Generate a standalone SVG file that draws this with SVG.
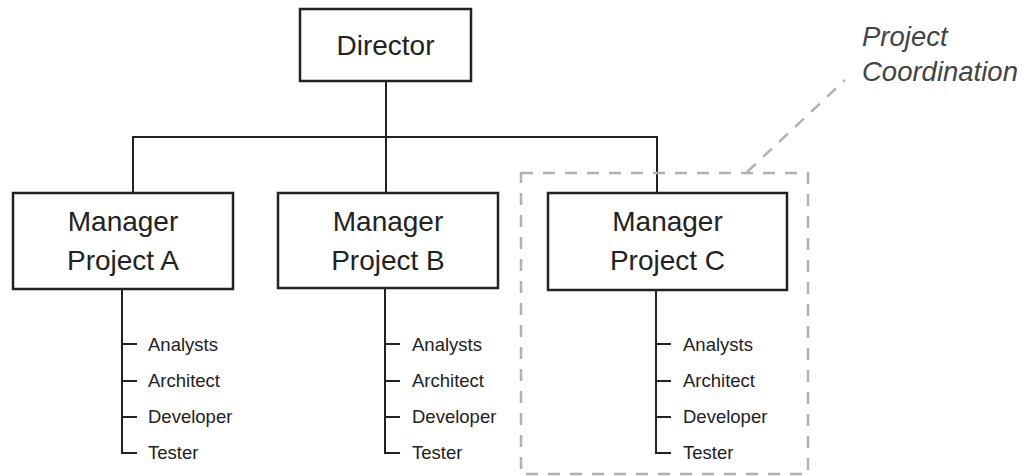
<svg xmlns="http://www.w3.org/2000/svg" width="1031" height="476" viewBox="0 0 1031 476">
<style>
.box{fill:#fff;stroke:#222;stroke-width:2.5}
.ln{fill:none;stroke:#222;stroke-width:2}
.big{font-family:"Liberation Sans",Arial,sans-serif;font-size:28px;fill:#222;text-anchor:middle}
.sm{font-family:"Liberation Sans",Arial,sans-serif;font-size:18.5px;fill:#222}
.dash{fill:none;stroke:#b0b0b0;stroke-width:2.5;stroke-dasharray:12 10}
.note{font-family:"Liberation Sans",Arial,sans-serif;font-size:27.5px;font-style:italic;fill:#444}
</style>
<rect width="1031" height="476" fill="#fff"/>
<g id="connectors">
<path class="ln" d="M386 81V193M133 193V137H657V193"/>
<path class="ln" d="M122 289V453H137M122 344H137M122 381H137M122 417H137"/>
<path class="ln" d="M385 288V453H400M385 344H400M385 381H400M385 417H400"/>
<path class="ln" d="M656 290V453H671M656 344H671M656 381H671M656 417H671"/>
</g>
<g id="coordination">
<rect class="dash" x="521" y="173" width="287" height="301"/>
<line class="dash" x1="747" y1="172" x2="845" y2="80"/>
<text class="note" x="862" y="46">Project</text>
<text class="note" x="862" y="81">Coordination</text>
</g>
<g id="director">
<rect class="box" x="300" y="9" width="171" height="72"/>
<text class="big" x="385.5" y="55">Director</text>
</g>
<g id="managerA">
<rect class="box" x="13" y="193" width="220" height="96"/>
<text class="big" x="123" y="231">Manager</text>
<text class="big" x="123" y="270">Project A</text>
</g>
<g id="managerB">
<rect class="box" x="278" y="193" width="220" height="95"/>
<text class="big" x="388" y="231">Manager</text>
<text class="big" x="388" y="270">Project B</text>
</g>
<g id="managerC">
<rect class="box" x="548" y="193" width="239" height="97"/>
<text class="big" x="667.5" y="231">Manager</text>
<text class="big" x="667.5" y="270">Project C</text>
</g>
<g id="rolesA" class="sm">
<text x="148" y="351">Analysts</text>
<text x="148" y="387">Architect</text>
<text x="148" y="423">Developer</text>
<text x="148" y="459">Tester</text>
</g>
<g id="rolesB" class="sm">
<text x="412" y="351">Analysts</text>
<text x="412" y="387">Architect</text>
<text x="412" y="423">Developer</text>
<text x="412" y="459">Tester</text>
</g>
<g id="rolesC" class="sm">
<text x="683" y="351">Analysts</text>
<text x="683" y="387">Architect</text>
<text x="683" y="423">Developer</text>
<text x="683" y="459">Tester</text>
</g>
</svg>
